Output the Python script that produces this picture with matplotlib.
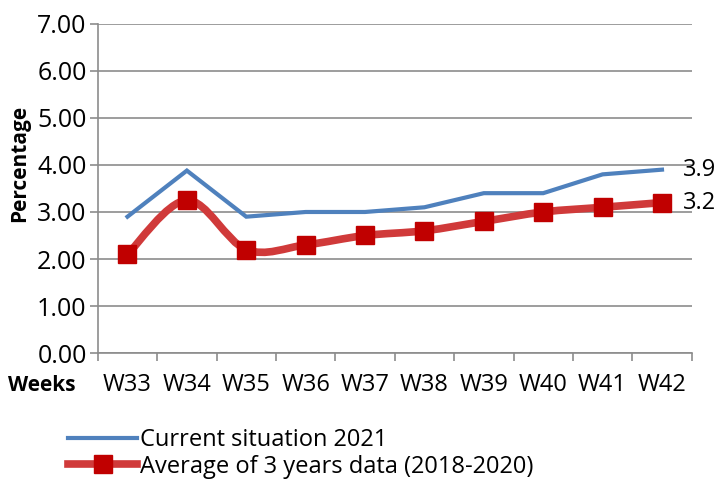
import matplotlib.pyplot as plt
import matplotlib as mpl
from matplotlib.path import Path
from matplotlib.patches import PathPatch
from matplotlib.lines import Line2D

weeks = ['W33', 'W34', 'W35', 'W36', 'W37', 'W38', 'W39', 'W40', 'W41', 'W42']
current_2021 = [2.9, 3.88, 2.9, 3.0, 3.0, 3.1, 3.4, 3.4, 3.8, 3.9]
avg_2018_2020 = [2.1, 3.25, 2.2, 2.3, 2.5, 2.6, 2.8, 3.0, 3.1, 3.2]
y_ticks = [0, 1, 2, 3, 4, 5, 6, 7]

BLUE = '#4F81BD'
RED_LINE = '#D03A3A'
RED_MARK = '#C00000'
grid_col = '#8c8c8c'

mpl.rc('font', family=['Open Sans', 'DejaVu Sans'], size=16)


def SmoothPath(xs, ys):
    # Excel-style smoothed line: cubic bezier through the points
    n = len(xs)
    verts = [(xs[0], ys[0])]
    codes = [Path.MOVETO]
    for i in range(n - 1):
        x0, y0 = xs[max(i - 1, 0)], ys[max(i - 1, 0)]
        x3, y3 = xs[min(i + 2, n - 1)], ys[min(i + 2, n - 1)]
        c1 = (xs[i] + (xs[i + 1] - x0) / 6, ys[i] + (ys[i + 1] - y0) / 6)
        c2 = (xs[i + 1] - (x3 - xs[i]) / 6, ys[i + 1] - (y3 - ys[i]) / 6)
        verts += [c1, c2, (xs[i + 1], ys[i + 1])]
        codes += [Path.CURVE4] * 3
    return Path(verts, codes)


fig = plt.figure(figsize=(7.19, 4.87), dpi=100)
ax = fig.add_axes([0.136, 0.275, 0.826, 0.676])

x = list(range(len(weeks)))
ax.plot(x, current_2021, color=BLUE, lw=3.0, solid_joinstyle='miter', zorder=3)
ax.add_patch(PathPatch(SmoothPath(x, avg_2018_2020), fill=False, edgecolor=RED_LINE,
                       lw=5.5, capstyle='round', zorder=3))
ax.plot(x, avg_2018_2020, ls='none', marker='s', markersize=13,
        markerfacecolor=RED_MARK, markeredgecolor=RED_MARK, zorder=4)

ax.text(x[-1] + 0.35, current_2021[-1], f'{current_2021[-1]}', va='center', ha='left', fontsize=17)
ax.text(x[-1] + 0.35, avg_2018_2020[-1], f'{avg_2018_2020[-1]}', va='center', ha='left', fontsize=17)

ax.set_xlim(-0.5, len(weeks) - 0.5)
ax.set_ylim(0, 7)
ax.set_yticks(y_ticks)
ax.set_yticklabels([f'{v:.2f}' for v in y_ticks], fontsize=18)
ax.set_xticks(x)
ax.set_xticklabels(weeks, fontsize=17)
ax.set_xticks([i - 0.5 for i in range(len(weeks) + 1)], minor=True)
ax.tick_params(axis='x', which='major', length=0, pad=14)
ax.tick_params(axis='x', which='minor', length=6, color=grid_col, width=1.2)
ax.tick_params(axis='y', length=6, color=grid_col, width=1.2, pad=2)
ax.grid(True, axis='y', color=grid_col, lw=1.2)
ax.set_axisbelow(True)
for s in ['top', 'right']:
    ax.spines[s].set_visible(False)
for s in ['left', 'bottom']:
    ax.spines[s].set_color(grid_col)
    ax.spines[s].set_linewidth(1.2)

ax.text(-0.131, 0.577, 'Percentage', transform=ax.transAxes, rotation=90,
        ha='center', va='center', fontweight='bold', fontsize=15)
ax.text(-0.152, -0.098, 'Weeks', transform=ax.transAxes, ha='left', va='center',
        fontweight='bold', fontsize=15)

handles = [Line2D([], [], color=BLUE, lw=3.0),
           Line2D([], [], color=RED_LINE, lw=5.5, marker='s', markersize=13,
                  markerfacecolor=RED_MARK, markeredgecolor=RED_MARK)]
labels = ['Current situation 2021', 'Average of 3 years data (2018-2020)']
fig.legend(handles, labels, loc='upper left', bbox_to_anchor=(0.082, 0.14), frameon=False,
           fontsize=17, handlelength=2.9, handletextpad=0.15, labelspacing=0.1, borderaxespad=0)

fig.savefig('out.png', dpi=100)
